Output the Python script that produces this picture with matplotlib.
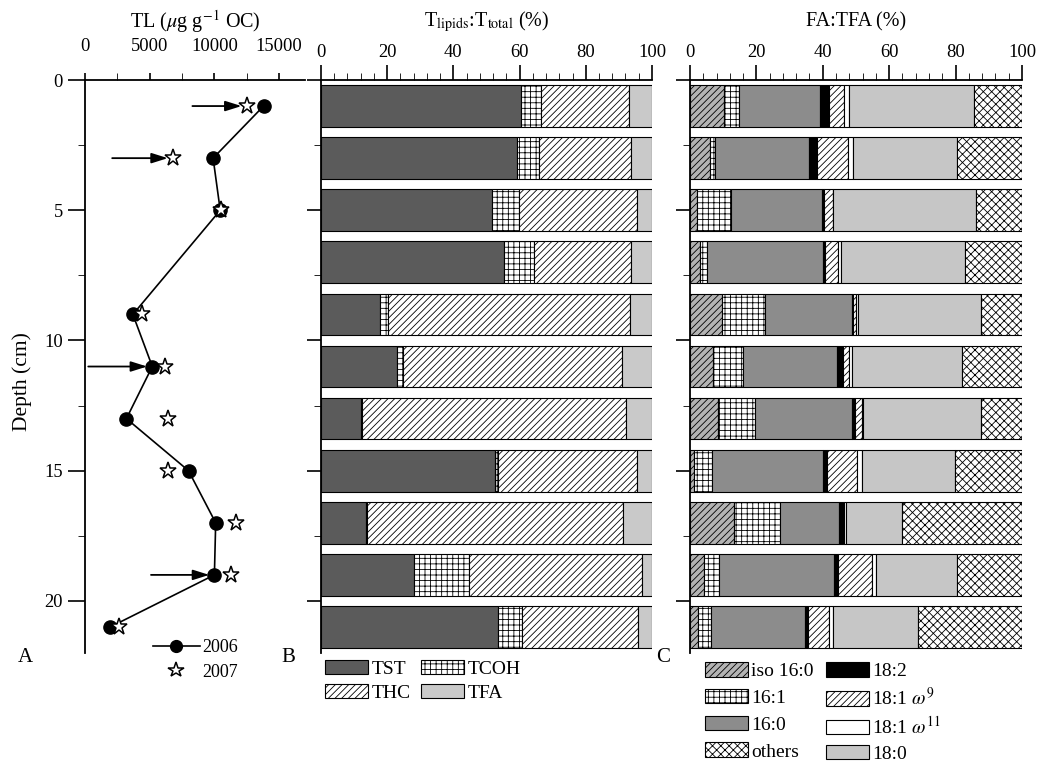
import matplotlib
matplotlib.use("Agg")
import matplotlib.pyplot as plt
from matplotlib.patches import Patch
from matplotlib.lines import Line2D
from matplotlib.ticker import MultipleLocator

plt.rcParams['font.family'] = ['Liberation Serif', 'DejaVu Serif']
plt.rcParams['mathtext.fontset'] = 'stix'
plt.rcParams['hatch.linewidth'] = 0.6

# Panel A: total lipids vs depth
depth = [1, 3, 5, 9, 11, 13, 15, 17, 19, 21]
tl_2006 = [13800, 9900, 10450, 3700, 5200, 3200, 8000, 10100, 10000, 1950]
tl_2007 = [12550, 6800, 10500, 4400, 6150, 6450, 6450, 11650, 11300, 2650]
arrow_depth = [1, 3, 11, 19]
arrow_from = [8300, 2100, 250, 5100]
arrow_to = [12100, 6400, 4800, 9600]

# Panel B: lipid classes (%)
bar_depth = [1, 3, 5, 7, 9, 11, 13, 15, 17, 19, 21]
tst = [60.4, 59.3, 51.6, 55.3, 17.8, 23.0, 12.0, 52.6, 13.5, 28.2, 53.6]
tcoh = [6.0, 6.7, 8.1, 9.1, 2.5, 1.9, 0.3, 0.8, 0.3, 16.6, 7.1]
thc = [26.7, 27.6, 35.7, 29.2, 73.1, 66.0, 79.8, 42.0, 77.3, 52.1, 35.2]
tfa = [6.9, 6.4, 4.6, 6.4, 6.6, 9.1, 7.9, 4.6, 8.9, 3.1, 4.1]

# Panel C: fatty acids (%)
iso160 = [10.3, 6.0, 2.2, 3.0, 9.8, 7.0, 8.3, 1.2, 13.3, 4.2, 2.5]
c161 = [4.6, 1.5, 10.3, 2.0, 12.8, 9.1, 11.3, 5.3, 13.8, 4.6, 3.7]
c160 = [24.3, 28.4, 27.4, 35.0, 26.1, 28.1, 29.1, 33.7, 17.9, 34.6, 28.4]
c182 = [2.8, 2.3, 0.6, 0.7, 0.3, 1.8, 0.9, 1.0, 1.2, 1.1, 1.0]
c181w9 = [4.5, 9.5, 2.7, 3.8, 1.0, 2.0, 2.1, 9.0, 0.2, 10.2, 6.4]
c181w11 = [1.5, 1.5, 0.0, 1.1, 0.7, 0.9, 0.4, 1.5, 0.5, 1.3, 1.2]
c180 = [37.5, 31.3, 42.9, 37.2, 37.1, 33.2, 35.7, 28.1, 16.9, 24.5, 25.6]
others = [14.5, 19.5, 13.9, 17.2, 12.2, 17.9, 12.2, 20.2, 36.2, 19.5, 31.2]

fig = plt.figure(figsize=(10.38, 7.62), dpi=100)
ax_a = fig.add_axes([0.0819, 0.143, 0.2119, 0.752])
ax_b = fig.add_axes([0.3092, 0.143, 0.3189, 0.752])
ax_c = fig.add_axes([0.6647, 0.143, 0.3198, 0.752])

tick_fs = 13.3
title_fs = 14.5
leg_fs = 14
title_y = 1 + 58 / 573.0

for ax in (ax_a, ax_b, ax_c):
    ax.set_ylim(22, 0)
    ax.spines['right'].set_visible(False)
    ax.spines['bottom'].set_visible(False)
    ax.spines['left'].set_linewidth(1.3)
    ax.spines['top'].set_linewidth(1.3)
    ax.xaxis.tick_top()
    ax.yaxis.set_major_locator(MultipleLocator(5))
    ax.yaxis.set_minor_locator(MultipleLocator(2.5))
    ax.tick_params(labelsize=tick_fs, width=1.2)

# ---- Panel A
ax_a.plot(tl_2006, depth, '-o', color='black', lw=1.2, ms=9.5, zorder=3)
ax_a.plot(tl_2007, depth, '*', ls='none', ms=12.5, mfc='white', mec='black',
          mew=1.1, zorder=4)
for d, x0, x1 in zip(arrow_depth, arrow_from, arrow_to):
    ax_a.annotate('', xy=(x1, d), xytext=(x0, d),
                  arrowprops=dict(arrowstyle='-|>,head_length=0.7,head_width=0.22',
                                  color='black', lw=1.3,
                                  mutation_scale=14, shrinkA=0, shrinkB=0))
ax_a.set_xlim(0, 17000)
ax_a.set_xticks([0, 5000, 10000, 15000])
ax_a.xaxis.set_minor_locator(MultipleLocator(2500))
ax_a.tick_params(axis='x', which='both', length=5, pad=13)
ax_a.tick_params(axis='y', which='major', length=12, pad=4)
ax_a.tick_params(axis='y', which='minor', length=5)
ax_a.text(0.5, title_y, r'TL ($\mu$g g$^{-1}$ OC)', transform=ax_a.transAxes,
          ha='center', va='center', fontsize=title_fs)
fig.text(0.021, 0.499, 'Depth (cm)', rotation=90, ha='center', va='center',
         fontsize=15.5)

ax_a.legend(
    [Line2D([], [], color='black', marker='o', ms=8.5, lw=1.2),
     Line2D([], [], color='black', marker='*', ms=11.5, mfc='white', ls='none', mew=1.1)],
    ['2006', '2007'], loc='upper left', bbox_to_anchor=(0.147, 0.161),
    bbox_transform=fig.transFigure, frameon=False, fontsize=13,
    handlelength=2.6, handletextpad=0.15, labelspacing=0.4, borderpad=0,
    borderaxespad=0)

# ---- Panel B
b_series = [
    (tst, '#5b5b5b', None, 'TST'),
    (tcoh, 'white', '+++', 'TCOH'),
    (thc, 'white', '/////', 'THC'),
    (tfa, '#c9c9c9', None, 'TFA'),
]
left = [0.0] * len(bar_depth)
for vals, col, hat, lab in b_series:
    ax_b.barh(bar_depth, vals, left=left, height=1.6, color=col, hatch=hat,
              edgecolor='black', linewidth=0.8)
    left = [l + v for l, v in zip(left, vals)]
ax_b.set_xlim(0, 100)
ax_b.xaxis.set_major_locator(MultipleLocator(20))
ax_b.xaxis.set_minor_locator(MultipleLocator(4))
ax_b.tick_params(axis='x', which='major', length=11, pad=2.5)
ax_b.tick_params(axis='x', which='minor', length=5)
ax_b.tick_params(axis='y', which='major', length=10, labelleft=False)
ax_b.tick_params(axis='y', which='minor', length=5)
ax_b.text(0.5, title_y, r'T$_{\rm lipids}$:T$_{\rm total}$ (%)',
          transform=ax_b.transAxes, ha='center', va='center', fontsize=title_fs)
hb = {lab: Patch(facecolor=col, hatch=hat, edgecolor='black', lw=0.8)
      for vals, col, hat, lab in b_series}
order_b = ['TST', 'THC', 'TCOH', 'TFA']
ax_b.legend([hb[k] for k in order_b], order_b, ncol=2, loc='upper left',
            bbox_to_anchor=(0.313, 0.134), bbox_transform=fig.transFigure,
            frameon=False, fontsize=leg_fs, handlelength=2.2, handleheight=0.77,
            handletextpad=0.2, columnspacing=0.55, labelspacing=0.3,
            borderpad=0, borderaxespad=0)

# ---- Panel C
c_series = [
    (iso160, '#b3b3b3', '/////', 'iso 16:0'),
    (c161, 'white', '+++', '16:1'),
    (c160, '#8c8c8c', None, '16:0'),
    (c182, 'black', None, '18:2'),
    (c181w9, 'white', '/////', r'18:1 $\omega^{9}$'),
    (c181w11, 'white', None, r'18:1 $\omega^{11}$'),
    (c180, '#c6c6c6', None, '18:0'),
    (others, 'white', 'xxxx', 'others'),
]
left = [0.0] * len(bar_depth)
for vals, col, hat, lab in c_series:
    ax_c.barh(bar_depth, vals, left=left, height=1.6, color=col, hatch=hat,
              edgecolor='black', linewidth=0.8)
    left = [l + v for l, v in zip(left, vals)]
ax_c.set_xlim(0, 100)
ax_c.xaxis.set_major_locator(MultipleLocator(20))
ax_c.xaxis.set_minor_locator(MultipleLocator(4))
ax_c.tick_params(axis='x', which='major', length=11, pad=2.5)
ax_c.tick_params(axis='x', which='minor', length=5)
ax_c.tick_params(axis='y', which='major', length=10, labelleft=False)
ax_c.tick_params(axis='y', which='minor', length=5)
ax_c.text(0.5, title_y, 'FA:TFA (%)', transform=ax_c.transAxes,
          ha='center', va='center', fontsize=title_fs)
hc = {lab: Patch(facecolor=col, hatch=hat, edgecolor='black', lw=0.8)
      for vals, col, hat, lab in c_series}

# two legend columns placed separately so the rows line up
col1 = ['iso 16:0', '16:1', '16:0', 'others']
col2 = ['18:2', r'18:1 $\omega^{9}$', r'18:1 $\omega^{11}$', '18:0']
leg_c1 = ax_c.legend([hc[k] for k in col1], col1, loc='upper left',
                     bbox_to_anchor=(0.679, 0.131), bbox_transform=fig.transFigure,
                     frameon=False, fontsize=leg_fs, handlelength=2.2,
                     handleheight=0.77, handletextpad=0.2, labelspacing=0.45,
                     borderpad=0, borderaxespad=0)
ax_c.add_artist(leg_c1)
ax_c.legend([hc[k] for k in col2], col2, loc='upper left',
            bbox_to_anchor=(0.7955, 0.131), bbox_transform=fig.transFigure,
            frameon=False, fontsize=leg_fs, handlelength=2.2,
            handleheight=0.77, handletextpad=0.2, labelspacing=0.35,
            borderpad=0, borderaxespad=0)

# panel letters
fig.text(25 / 1038, 1 - 658 / 762, 'A', fontsize=15, ha='center', va='center')
fig.text(288 / 1038, 1 - 657 / 762, 'B', fontsize=15, ha='center', va='center')
fig.text(663 / 1038, 1 - 658 / 762, 'C', fontsize=15, ha='center', va='center')

fig.savefig('out.png', dpi=100)
